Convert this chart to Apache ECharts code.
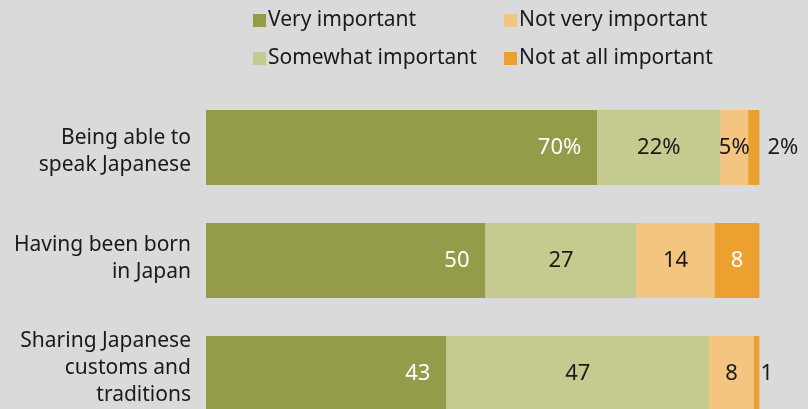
<!DOCTYPE html>
<html><head><meta charset="utf-8">
<script src="https://cdn.jsdelivr.net/npm/echarts@6/dist/echarts.min.js"></script>
<style>html,body{margin:0;padding:0;background:#dadada}#c{width:808px;height:409px}</style>
</head><body><div id="c"></div>
<script>
const categories = ['Being able to\nspeak Japanese', 'Having been born\nin Japan', 'Sharing Japanese\ncustoms and\ntraditions'];
const seriesNames = ['Very important', 'Somewhat important', 'Not very important', 'Not at all important'];
const veryImportant = [70, 50, 43];
const somewhatImportant = [22, 27, 47];
const notVeryImportant = [5, 14, 8];
const notAtAllImportant = [2, 8, 1];

const colors = ['#949c4a', '#c5cb8f', '#f3c580', '#eba030'];
const FONT = 'Noto Sans';
const TXT = '#1a1a1a';
// vertical nudges of the category labels (spacer line: before / after)
const catSpacer = [['top', 8], ['bottom', 4], ['bottom', 10]];

function fmt(p) { return p.dataIndex === 0 ? p.value + '%' : String(p.value); }

function makeData(vals, labelOverrides) {
  return vals.map((v, i) => {
    const o = { value: v };
    if (labelOverrides && labelOverrides[i]) o.label = labelOverrides[i];
    return o;
  });
}

function catFormatter(value, idx) {
  const lines = value.split('\n').map(l => '{a|' + l + '}');
  const sp = catSpacer[idx];
  if (sp) {
    const s = '{s' + sp[1] + '| }';
    if (sp[0] === 'top') lines.unshift(s); else lines.push(s);
  }
  return lines.join('\n');
}

const chart = echarts.init(document.getElementById('c'));
const baseLabel = { show: true, fontFamily: FONT, fontSize: 22, color: TXT, formatter: fmt };
const legendText = { fontFamily: FONT, fontSize: 21, color: TXT, padding: [0, 0, 0, -3] };
chart.setOption({
  backgroundColor: '#dadada',
  animation: false,
  legend: [
    { data: seriesNames.slice(0, 2), orient: 'vertical', left: 248, top: 5, itemWidth: 13, itemHeight: 13, itemGap: 17, icon: 'rect', textStyle: legendText },
    { data: seriesNames.slice(2), orient: 'vertical', left: 499, top: 5, itemWidth: 13, itemHeight: 13, itemGap: 17, icon: 'rect', textStyle: legendText }
  ],
  grid: { left: 206, top: 91, width: 559, height: 339, outerBoundsMode: 'none', containLabel: false },
  xAxis: { type: 'value', min: 0, max: 100, show: false },
  yAxis: { type: 'category', inverse: true, data: categories,
    axisLine: { show: false }, axisTick: { show: false },
    axisLabel: { margin: 15, align: 'right', formatter: catFormatter,
      rich: {
        a: { fontFamily: FONT, fontSize: 21, color: TXT, lineHeight: 27, align: 'right' },
        s4: { fontSize: 1, lineHeight: 4 },
        s8: { fontSize: 1, lineHeight: 8 },
        s10: { fontSize: 1, lineHeight: 10 }
      } } },
  series: [
    { name: seriesNames[0], type: 'bar', stack: 't', barWidth: 75, itemStyle: { color: colors[0] },
      label: Object.assign({}, baseLabel, { position: 'insideRight', distance: 16, color: '#ffffff' }),
      data: makeData(veryImportant) },
    { name: seriesNames[1], type: 'bar', stack: 't', barWidth: 75, itemStyle: { color: colors[1] },
      label: Object.assign({}, baseLabel, { position: 'inside' }),
      data: makeData(somewhatImportant) },
    { name: seriesNames[2], type: 'bar', stack: 't', barWidth: 75, itemStyle: { color: colors[2] },
      label: Object.assign({}, baseLabel, { position: 'inside' }),
      data: makeData(notVeryImportant) },
    { name: seriesNames[3], type: 'bar', stack: 't', barWidth: 75, itemStyle: { color: colors[3] },
      label: Object.assign({}, baseLabel, { position: 'right', distance: 8 }),
      data: makeData(notAtAllImportant, [null, { position: 'inside', color: '#ffffff' }, { distance: 1 }]) }
  ]
});
</script></body></html>
